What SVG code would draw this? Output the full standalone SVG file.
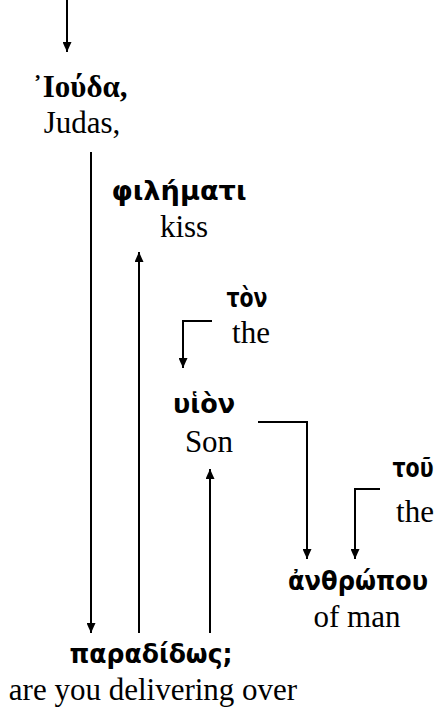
<svg xmlns="http://www.w3.org/2000/svg" width="444" height="713" viewBox="0 0 444 713">
  <style>
    .gk { font-family: "DejaVu Sans", "Noto Sans", sans-serif; font-weight: bold; font-size: 26px; fill: #000; text-anchor: middle; }
    .gs { font-family: "Liberation Serif", "Times New Roman", serif; font-weight: bold; font-size: 31px; fill: #000; text-anchor: middle; }
    .en { font-family: "Liberation Serif", "Times New Roman", serif; font-size: 31px; fill: #000; text-anchor: middle; }
    .ln { fill: none; stroke: #000; stroke-width: 2; }
  </style>
  <defs>
    <marker id="ah" viewBox="0 0 10 10" refX="10" refY="5" markerWidth="10" markerHeight="9" markerUnits="userSpaceOnUse" orient="auto" preserveAspectRatio="none">
      <path d="M0,0 L10,5 L0,10 Z" fill="#000"/>
    </marker>
  </defs>

  <!-- connectors -->
  <g id="connectors">
    <line class="ln" x1="67" y1="0" x2="67" y2="52" marker-end="url(#ah)"/>
    <line class="ln" x1="91" y1="152" x2="91" y2="633" marker-end="url(#ah)"/>
    <line class="ln" x1="139" y1="633" x2="139" y2="252" marker-end="url(#ah)"/>
    <polyline class="ln" points="212,321 183,321 183,368" marker-end="url(#ah)"/>
    <line class="ln" x1="210" y1="633" x2="210" y2="469" marker-end="url(#ah)"/>
    <polyline class="ln" points="258,422 307,422 307,559" marker-end="url(#ah)"/>
    <polyline class="ln" points="380,489 355,489 355,559" marker-end="url(#ah)"/>
  </g>

  <!-- word nodes -->
  <g id="node-iouda">
    <text class="gs" x="80" y="97">᾿Ιούδα,</text>
    <text class="en" x="82" y="133">Judas,</text>
  </g>
  <g id="node-philemati">
    <text class="gk" x="179" y="200" textLength="135" lengthAdjust="spacingAndGlyphs">φιλήματι</text>
    <text class="en" x="184" y="237">kiss</text>
  </g>
  <g id="node-ton">
    <text class="gk" x="247" y="307" textLength="41" lengthAdjust="spacingAndGlyphs">τὸν</text>
    <text class="en" x="251" y="343">the</text>
  </g>
  <g id="node-huion">
    <text class="gk" x="204" y="413" textLength="62" lengthAdjust="spacingAndGlyphs">υἱὸν</text>
    <text class="en" x="209" y="452">Son</text>
  </g>
  <g id="node-tou">
    <text class="gk" x="413" y="477" textLength="41" lengthAdjust="spacingAndGlyphs">τοῦ</text>
    <text class="en" x="415" y="522">the</text>
  </g>
  <g id="node-anthropou">
    <text class="gk" x="358" y="590" textLength="140" lengthAdjust="spacingAndGlyphs">ἀνθρώπου</text>
    <text class="en" x="357" y="627">of man</text>
  </g>
  <g id="node-paradidos">
    <text class="gk" x="151" y="663" textLength="163" lengthAdjust="spacingAndGlyphs">παραδίδως;</text>
    <text class="en" x="153" y="700">are you delivering over</text>
  </g>
</svg>
